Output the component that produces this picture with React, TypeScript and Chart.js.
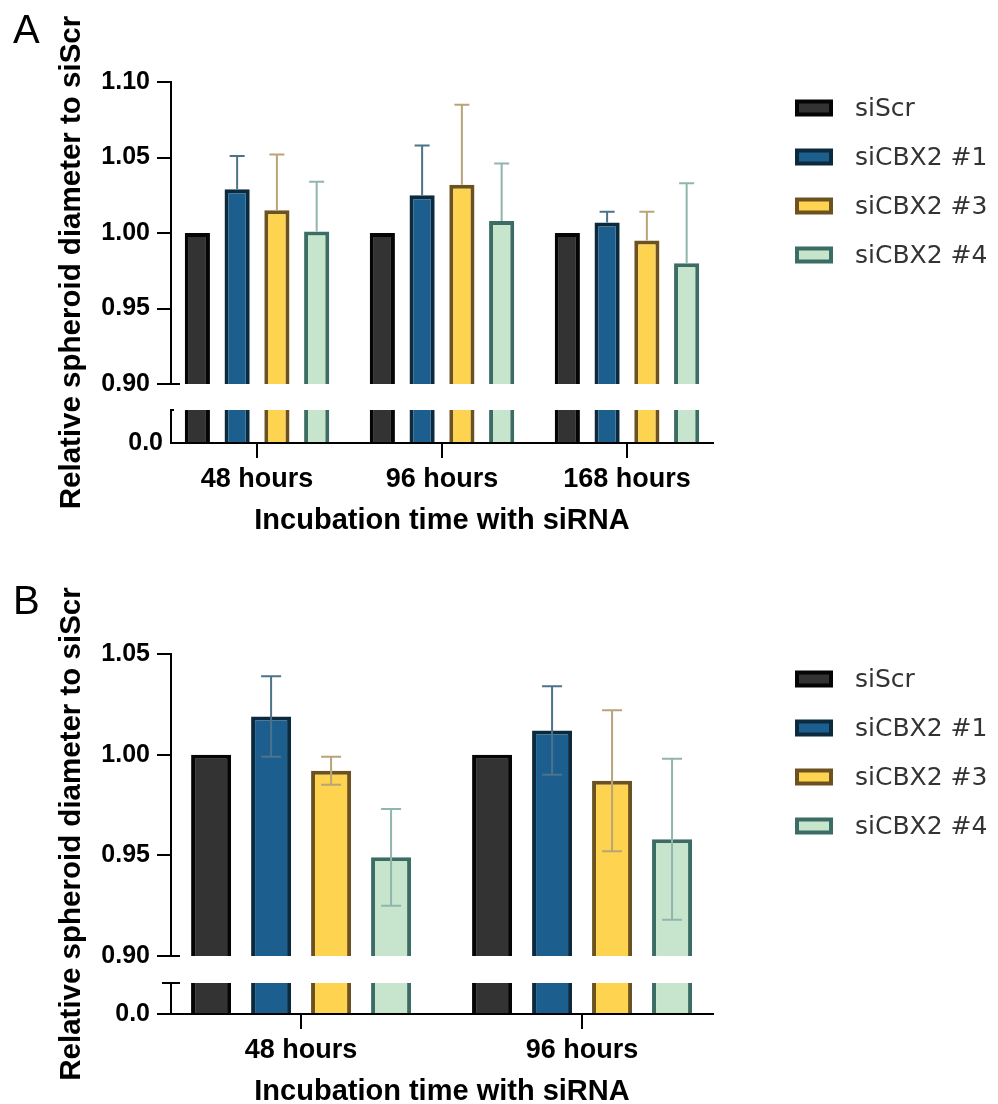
import React, { useEffect, useRef } from 'react';
import { Chart, registerables } from 'chart.js';

Chart.register(...registerables);

// ---------- data ----------
const seriesNames = ['siScr', 'siCBX2 #1', 'siCBX2 #3', 'siCBX2 #4'];
const fillColors = ['#333333', '#1c5f8e', '#fdd34f', '#c7e5cc'];
const borderColors = ['#050505', '#0b2a3d', '#6c5220', '#3c6d65'];
const errorColors = ['#333333', '#4b7389', '#b9a478', '#8fb5ae'];

// Panel A
const categoriesA = ['48 hours', '96 hours', '168 hours'];
const siScrA = [1.0, 1.0, 1.0];
const cbx1A = [1.029, 1.025, 1.007];
const cbx3A = [1.015, 1.032, 0.995];
const cbx4A = [1.001, 1.008, 0.98];
const cbx1ErrA = [0.022, 0.033, 0.007];
const cbx3ErrA = [0.037, 0.053, 0.019];
const cbx4ErrA = [0.033, 0.038, 0.053];
const yTicksA = [0.9, 0.95, 1.0, 1.05, 1.1];

// Panel B
const categoriesB = ['48 hours', '96 hours'];
const siScrB = [1.0, 1.0];
const cbx1B = [1.019, 1.012];
const cbx3B = [0.992, 0.987];
const cbx4B = [0.949, 0.958];
const cbx1ErrB = [0.02, 0.022];
const cbx3ErrB = [0.007, 0.035];
const cbx4ErrB = [0.024, 0.04];
const yTicksB = [0.9, 0.95, 1.0, 1.05];

const lowerTicks = [0];

const yTitle = 'Relative spheroid diameter to siScr';
const xTitle = 'Incubation time with siRNA';

const FONT = '"Liberation Sans", Arial, sans-serif';
const LEGEND_FONT = '"DejaVu Sans", sans-serif';

type PanelSpec = {
  letter: string;
  categories: string[];
  series: number[][];
  errors: (number[] | null)[];
  errorMode: 'up' | 'both';
  yTicks: number[];
  yMin: number;
  yMax: number;
  weights: [number, number, number];
  xMin: number;
  xMax: number;
  catPct: number;
  barPct: number;
  capWidth: number;
  padTop: number;
  lowerTickMark: boolean;
  topCap: [number, number];
  botCap: [number, number];
};

const specA: PanelSpec = {
  letter: 'A',
  categories: categoriesA,
  series: [siScrA, cbx1A, cbx3A, cbx4A],
  errors: [null, cbx1ErrA, cbx3ErrA, cbx4ErrA],
  errorMode: 'up',
  yTicks: yTicksA,
  yMin: 0.9,
  yMax: 1.1,
  weights: [302, 26, 33],
  xMin: -0.465,
  xMax: 2.465,
  catPct: 0.86,
  barPct: 0.633,
  capWidth: 15,
  padTop: 82,
  lowerTickMark: false,
  topCap: [-9, 9],
  botCap: [-1, 3],
};

const specB: PanelSpec = {
  letter: 'B',
  categories: categoriesB,
  series: [siScrB, cbx1B, cbx3B, cbx4B],
  errors: [null, cbx1ErrB, cbx3ErrB, cbx4ErrB],
  errorMode: 'both',
  yTicks: yTicksB,
  yMin: 0.9,
  yMax: 1.05,
  weights: [302, 27, 31],
  xMin: -0.463,
  xMax: 1.466,
  catPct: 0.854,
  barPct: 0.667,
  capWidth: 20,
  padTop: 83,
  lowerTickMark: true,
  topCap: [-9, 9],
  botCap: [-9, 9],
};

// ---------- plugin ----------
const decorPlugin = {
  id: 'decor',
  beforeDatasetDraw(chart: any, args: any) {
    const ys = args.meta.yScale;
    const ctx = chart.ctx;
    ctx.save();
    ctx.beginPath();
    ctx.rect(0, ys.top, chart.width, ys.bottom - ys.top);
    ctx.clip();
  },
  afterDatasetDraw(chart: any) {
    chart.ctx.restore();
  },
  afterDatasetsDraw(chart: any, _args: any, opts: any) {
    const ctx = chart.ctx;
    chart.data.datasets.forEach((ds: any, di: number) => {
      if (!ds.errors) return;
      const meta = chart.getDatasetMeta(di);
      const ys = chart.scales[ds.yAxisID];
      ctx.save();
      ctx.strokeStyle = errorColors[ds.seriesIndex];
      ctx.lineWidth = 2;
      meta.data.forEach((bar: any, i: number) => {
        const v = ds.data[i].y;
        const e = ds.errors[i];
        const x = bar.x;
        const half = opts.capWidth / 2;
        const yv = ys.getPixelForValue(v);
        const yu = ys.getPixelForValue(v + e);
        const yl = opts.errorMode === 'both' ? ys.getPixelForValue(v - e) : yv;
        ctx.beginPath();
        ctx.moveTo(x, yl);
        ctx.lineTo(x, yu);
        ctx.moveTo(x - half, yu);
        ctx.lineTo(x + half, yu);
        if (opts.errorMode === 'both') {
          ctx.moveTo(x - half, yl);
          ctx.lineTo(x + half, yl);
        }
        ctx.stroke();
      });
      ctx.restore();
    });
  },
  afterDraw(chart: any, _args: any, opts: any) {
    const ctx = chart.ctx;
    const ca = chart.chartArea;
    const top = chart.scales.yTop;
    const bot = chart.scales.yBot;
    const ax = ca.left;
    ctx.save();
    // axis break caps
    ctx.strokeStyle = '#000';
    ctx.lineWidth = 2;
    ctx.beginPath();
    ctx.moveTo(ax + opts.topCap[0], top.bottom);
    ctx.lineTo(ax + opts.topCap[1], top.bottom);
    ctx.moveTo(ax + opts.botCap[0], bot.top);
    ctx.lineTo(ax + opts.botCap[1], bot.top);
    ctx.stroke();

    // y title
    ctx.save();
    ctx.translate(opts.titleX, (ca.top + ca.bottom) / 2);
    ctx.rotate(-Math.PI / 2);
    ctx.fillStyle = '#000';
    ctx.font = `bold 29.5px ${FONT}`;
    ctx.textAlign = 'center';
    ctx.textBaseline = 'middle';
    ctx.fillText(yTitle, 0, 0);
    ctx.restore();

    // panel letter
    ctx.fillStyle = '#000';
    ctx.font = `40px ${FONT}`;
    ctx.textAlign = 'left';
    ctx.textBaseline = 'alphabetic';
    ctx.fillText(opts.letter, opts.letterX, opts.letterY);

    // legend
    const items = chart.data.datasets.filter((d: any) => d.segment === 'top');
    ctx.font = `25px ${LEGEND_FONT}`;
    ctx.textBaseline = 'middle';
    items.forEach((d: any, i: number) => {
      const cy = opts.legendY + i * opts.legendStep;
      const bx = opts.legendX;
      const bw = 38;
      const bh = 17;
      ctx.fillStyle = d.backgroundColor;
      ctx.fillRect(bx + 2, cy - bh / 2 + 2, bw - 4, bh - 4);
      ctx.strokeStyle = d.borderColor;
      ctx.lineWidth = 4;
      ctx.strokeRect(bx + 2, cy - bh / 2 + 2, bw - 4, bh - 4);
      ctx.fillStyle = '#333';
      ctx.fillText(d.label, opts.legendTextX, cy + 1);
    });
    ctx.restore();
  },
};

function buildConfig(p: PanelSpec) {
  const datasets: any[] = [];
  p.series.forEach((vals, s) => {
    const common = {
      type: 'bar',
      label: seriesNames[s],
      backgroundColor: fillColors[s],
      borderColor: borderColors[s],
      borderWidth: 4,
      borderSkipped: 'start',
      stack: 'grp' + s,
      categoryPercentage: p.catPct,
      barPercentage: p.barPct,
      clip: 0,
      seriesIndex: s,
    };
    datasets.push({
      ...common,
      yAxisID: 'yTop',
      segment: 'top',
      errors: p.errors[s],
      data: vals.map((v, i) => ({ x: i, y: v })),
    });
    datasets.push({
      ...common,
      yAxisID: 'yBot',
      segment: 'bottom',
      errors: null,
      data: vals.map((v, i) => ({ x: i, y: v })),
    });
  });

  const tickFont = { family: FONT, size: 25, weight: 'bold' as const };
  const axisGrid = {
    display: true,
    drawOnChartArea: false,
    drawTicks: true,
    tickLength: 14,
    color: '#000',
    lineWidth: 2,
    offset: false,
  };
  const border = { display: true, color: '#000', width: 2 };

  return {
    type: 'bar',
    data: { datasets },
    plugins: [decorPlugin],
    options: {
      responsive: false,
      animation: false,
      devicePixelRatio: 1,
      layout: { padding: { top: p.padTop, left: 0, right: 285, bottom: 0 } },
      plugins: {
        legend: { display: false },
        title: { display: false },
        tooltip: { enabled: false },
        decor: {
          errorMode: p.errorMode,
          capWidth: p.capWidth,
          topCap: p.topCap,
          botCap: p.botCap,
          titleX: 72,
          letter: p.letter,
          letterX: 13,
          letterY: 43,
          legendX: 795,
          legendTextX: 855,
          legendY: 108,
          legendStep: 49,
        },
      },
      scales: {
        x: {
          type: 'linear',
          position: 'bottom',
          min: p.xMin,
          max: p.xMax,
          bounds: 'data',
          offset: false,
          z: 1,
          afterBuildTicks: (s: any) => {
            s.ticks = p.categories.map((_, i) => ({ value: i }));
          },
          afterFit: (s: any) => {
            s.height = 95;
          },
          ticks: {
            callback: (v: any) => p.categories[Math.round(Number(v))] ?? '',
            font: { family: FONT, size: 27, weight: 'bold' },
            color: '#000',
            padding: 5,
            maxRotation: 0,
            autoSkip: false,
          },
          grid: { ...axisGrid, tickLength: 15 },
          border,
          title: {
            display: true,
            text: xTitle,
            font: { family: FONT, size: 29, weight: 'bold' },
            color: '#000',
            padding: 0,
          },
        },
        yTop: {
          type: 'linear',
          position: 'left',
          stack: 'y',
          stackWeight: p.weights[0],
          weight: 3,
          min: p.yMin,
          max: p.yMax,
          stacked: false,
          bounds: 'data',
          afterBuildTicks: (s: any) => {
            s.ticks = p.yTicks.map((v) => ({ value: v }));
          },
          afterFit: (s: any) => {
            s.width = 171;
          },
          ticks: {
            callback: (v: any) => Number(v).toFixed(2),
            font: tickFont,
            color: '#000',
            padding: 7,
          },
          grid: axisGrid,
          border,
        },
        yGap: {
          type: 'linear',
          position: 'left',
          stack: 'y',
          stackWeight: p.weights[1],
          weight: 2,
          min: 0,
          max: 1,
          afterFit: (s: any) => {
            s.width = 171;
          },
          ticks: { display: false },
          grid: { display: false },
          border: { display: false },
        },
        yBot: {
          type: 'linear',
          position: 'left',
          stack: 'y',
          stackWeight: p.weights[2],
          weight: 1,
          min: 0,
          max: 0.05,
          stacked: false,
          bounds: 'data',
          afterBuildTicks: (s: any) => {
            s.ticks = lowerTicks.map((v) => ({ value: v }));
          },
          afterFit: (s: any) => {
            s.width = 171;
          },
          ticks: {
            callback: (v: any) => Number(v).toFixed(1),
            font: tickFont,
            color: '#000',
            padding: p.lowerTickMark ? 7 : 8,
          },
          grid: { ...axisGrid, drawTicks: p.lowerTickMark },
          border,
        },
      },
    },
  };
}

function Panel({ spec, top }: { spec: PanelSpec; top: number }) {
  const ref = useRef<HTMLCanvasElement>(null);
  useEffect(() => {
    if (!ref.current) return;
    const chart = new Chart(ref.current, buildConfig(spec) as any);
    return () => chart.destroy();
  }, [spec]);
  return (
    <div style={{ position: 'absolute', left: 0, top, width: 998, height: 538 }}>
      <canvas ref={ref} width={998} height={538} style={{ display: 'block', width: 998, height: 538 }} />
    </div>
  );
}

export default function App() {
  return (
    <div
      style={{
        position: 'absolute',
        left: 0,
        top: 0,
        width: 998,
        height: 1104,
        overflow: 'hidden',
        background: '#fff',
      }}
    >
      <Panel spec={specA} top={0} />
      <Panel spec={specB} top={571} />
    </div>
  );
}
